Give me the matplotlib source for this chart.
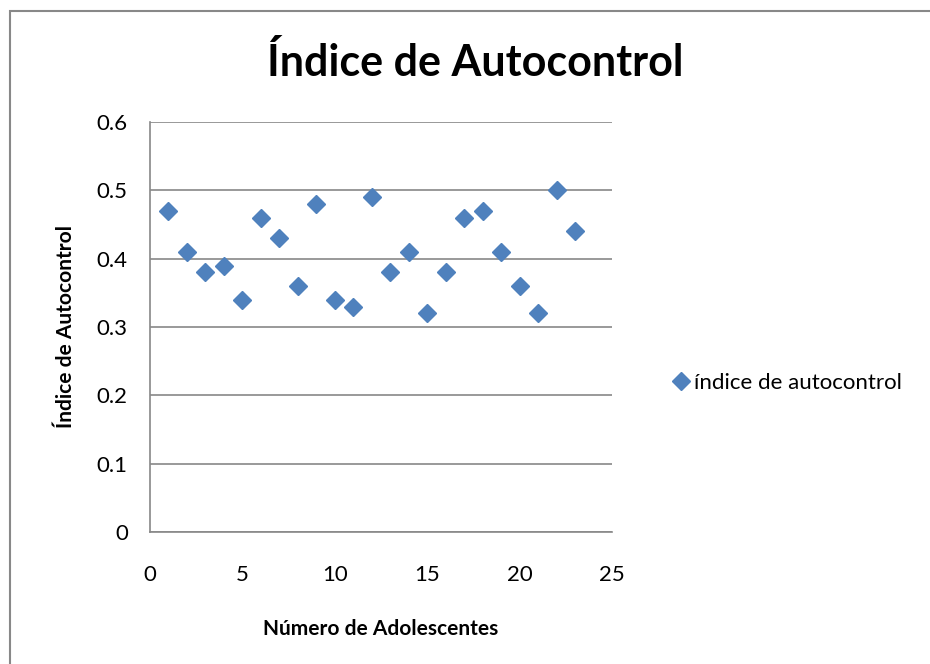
import numpy as np
import matplotlib.pyplot as plt
from matplotlib.patches import Rectangle

plt.rcParams['font.family'] = ['Lato', 'DejaVu Sans']

adolescentes = np.arange(1, 24)
indice = [0.47, 0.41, 0.38, 0.39, 0.34, 0.46, 0.43, 0.36, 0.48, 0.34, 0.33, 0.49,
          0.38, 0.41, 0.32, 0.38, 0.46, 0.47, 0.41, 0.36, 0.32, 0.50, 0.44]
serie_label = "índice de autocontrol"

W, H = 930, 664
fig = plt.figure(figsize=(W / 100, H / 100), dpi=100)

# outer chart frame
fig.patches.append(Rectangle((10 / W, -0.01), 1.0, 1 - 11 / H + 0.01,
                             transform=fig.transFigure, fill=False,
                             edgecolor='#888888', linewidth=1.5))

ax = fig.add_axes([150 / W, 1 - 532 / H, (612 - 150) / W, (532 - 122) / H])
ax.plot(adolescentes, indice, linestyle='none', marker='D', markersize=9,
        color='#4F81BD', markeredgecolor='#4F81BD', label=serie_label, zorder=3)

ax.set_xlim(0, 25)
ax.set_ylim(0, 0.6)
ax.set_xticks([0, 5, 10, 15, 20, 25])
ax.set_yticks(np.arange(0, 0.61, 0.1))
ax.set_yticklabels(['0', '0.1', '0.2', '0.3', '0.4', '0.5', '0.6'])
ax.tick_params(length=0, labelsize=16)
ax.tick_params(axis='x', pad=24)
ax.tick_params(axis='y', pad=16)
ax.grid(axis='y', color='#888888', linewidth=1.2)
ax.set_axisbelow(True)
for s in ['top', 'right']:
    ax.spines[s].set_visible(False)
for s in ['left', 'bottom']:
    ax.spines[s].set_color('#888888')
    ax.spines[s].set_linewidth(1.2)

fig.text(475 / W, 1 - 62 / H, "Índice de Autocontrol", ha='center', va='center',
         fontsize=31, fontweight='bold')
ax.set_xlabel("Número de Adolescentes", fontsize=15, fontweight='bold', labelpad=24)
ax.set_ylabel("Índice de Autocontrol", fontsize=15, fontweight='bold', labelpad=15)

ax.legend(loc='center left', bbox_to_anchor=(663 / W, 1 - 383 / H),
          bbox_transform=fig.transFigure, frameon=False, fontsize=16,
          handlelength=0.6, handletextpad=0.3, borderpad=0)

plt.savefig('out.png', dpi=100)
